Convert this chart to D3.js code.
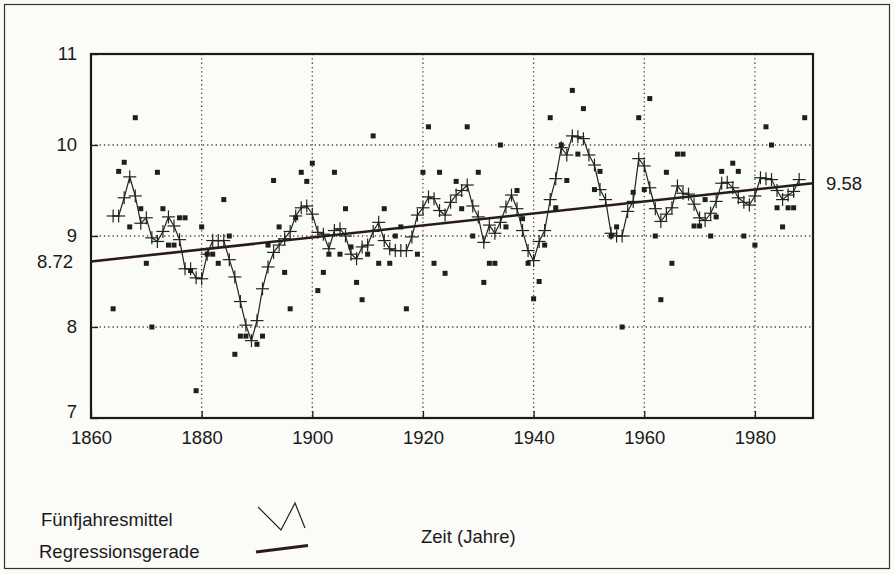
<!DOCTYPE html>
<html>
<head>
<meta charset="utf-8">
<script src="https://cdn.jsdelivr.net/npm/d3@7"></script>
<style>
  body { margin: 0; background: #fbfbf8; }
  text { font-family: 'Liberation Sans', Arial, sans-serif; fill: #1a1a1a; }
</style>
</head>
<body>
<div id="chart"></div>
<script>
// annual means (squares)
var annualYears = [1864,1865,1866,1867,1868,1869,1870,1871,1872,1873,
  1874,1875,1876,1877,1878,1879,1880,1881,1882,1883,
  1884,1885,1886,1887,1888,1890,1891,1892,1893,1894,
  1895,1896,1897,1898,1899,1900,1901,1902,1903,1904,
  1905,1906,1907,1908,1909,1910,1911,1912,1913,1914,
  1915,1916,1917,1919,1920,1921,1922,1923,1924,1926,
  1927,1928,1929,1930,1931,1932,1933,1934,1935,1937,
  1938,1939,1940,1941,1942,1943,1944,1945,1946,1947,
  1948,1949,1951,1952,1954,1955,1956,1958,1959,1960,
  1961,1962,1963,1964,1965,1966,1967,1969,1970,1971,
  1972,1973,1974,1976,1977,1978,1980,1982,1983,1984,
  1985,1986,1987,1989]
var annualValues = [8.20,9.71,9.81,9.10,10.30,9.30,8.70,8.00,9.70,9.30,
  8.90,8.90,9.20,9.20,8.62,7.30,9.10,8.80,8.80,8.70,
  9.40,9.00,7.70,7.90,7.90,7.81,7.90,8.90,9.61,9.10,
  8.60,8.20,9.20,9.70,9.60,9.80,8.40,8.60,8.80,9.70,
  8.80,9.30,8.88,8.49,8.30,8.80,10.10,8.70,9.30,8.70,
  9.00,9.10,8.20,8.80,9.70,10.20,8.70,9.70,8.59,9.60,
  9.30,10.20,9.00,9.70,8.49,8.70,8.70,10.00,9.10,9.50,
  9.19,8.70,8.31,8.50,8.90,10.30,9.31,10.00,9.61,10.60,
  9.90,10.40,9.51,9.71,9.00,9.10,8.00,9.48,10.30,9.51,
  10.51,9.00,8.30,9.70,8.70,9.90,9.90,9.11,9.11,9.40,
  9.00,9.21,9.71,9.80,9.71,9.00,8.90,10.20,10.00,9.31,
  9.10,9.31,9.31,10.30]

// five-year means (line with + markers), 1864..1988
var meanYears = d3.range(1864, 1989)
var meanValues = [9.22,9.22,9.42,9.65,9.44,9.14,9.20,8.98,8.94,9.05,
  9.21,9.11,8.96,8.64,8.64,8.54,8.53,8.80,8.95,8.95,
  8.95,8.74,8.55,8.28,8.02,7.85,8.07,8.42,8.66,8.82,
  8.90,8.97,9.05,9.22,9.31,9.33,9.24,9.04,9.02,8.86,
  9.06,9.08,9.00,8.80,8.75,8.88,8.90,9.05,9.15,8.95,
  8.86,8.84,8.84,8.84,8.99,9.23,9.31,9.43,9.41,9.28,
  9.23,9.37,9.45,9.50,9.56,9.33,9.21,8.93,9.12,9.03,
  9.15,9.32,9.45,9.30,9.06,8.84,8.73,8.94,9.06,9.40,
  9.63,9.97,9.89,10.10,10.09,10.07,9.89,9.78,9.51,9.40,
  9.03,9.00,9.00,9.27,9.38,9.85,9.77,9.53,9.30,9.16,
  9.24,9.31,9.55,9.47,9.46,9.35,9.20,9.17,9.25,9.38,
  9.58,9.59,9.53,9.42,9.37,9.34,9.44,9.64,9.63,9.62,
  9.50,9.40,9.45,9.49,9.62]

// regression line end values
var regressionYears = [1860, 1990.5]
var regressionValues = [8.72, 9.58]

var xTicks = [1860, 1880, 1900, 1920, 1940, 1960, 1980]
var yTicks = [7, 8, 9, 10, 11]

function drawChart() {
  const width = 895, height = 574
  const plot = {left: 91, right: 813, top: 54, bottom: 418}

  var svg = d3.select('#chart').append('svg')
    .attr('width', width)
    .attr('height', height)

  // outer border
  svg.append('rect')
    .attr('x', 4.5).attr('y', 4.5)
    .attr('width', width - 10).attr('height', height - 10)
    .style('fill', 'none')
    .style('stroke', '#333')
    .style('stroke-width', 1.2)

  const x = d3.scaleLinear().domain([1860, 1990.5]).range([plot.left, plot.right])
  const y = d3.scaleLinear().domain([7, 11]).range([plot.bottom, plot.top])

  var g = svg.append('g').attr('class', 'plot')

  // dotted grid
  g.append('g').selectAll('line')
    .data(xTicks.slice(1))
    .enter().append('line')
      .attr('x1', d => x(d)).attr('x2', d => x(d))
      .attr('y1', plot.top).attr('y2', plot.bottom)
      .style('stroke', '#444')
      .style('stroke-width', 1.3)
      .style('stroke-dasharray', '1.3,3')
  g.append('g').selectAll('line')
    .data(yTicks.slice(1, -1))
    .enter().append('line')
      .attr('x1', plot.left).attr('x2', plot.right)
      .attr('y1', d => y(d)).attr('y2', d => y(d))
      .style('stroke', '#444')
      .style('stroke-width', 1.3)
      .style('stroke-dasharray', '1.3,3')

  // axes, ticks pointing inward
  var xAxis = d3.axisBottom(x).tickValues(xTicks).tickSize(-7).tickPadding(13).tickFormat(d3.format('d'))
  var yAxis = d3.axisLeft(y).tickValues(yTicks).tickSize(-7).tickPadding(14).tickFormat(d3.format('d'))

  var gx = g.append('g').attr('transform', 'translate(0,' + plot.bottom + ')').call(xAxis)
  var gy = g.append('g').attr('transform', 'translate(' + plot.left + ',0)').call(yAxis)
  ;[gx, gy].forEach(a => {
    a.select('.domain').remove()
    a.selectAll('line').style('stroke', '#1a1a1a').style('stroke-width', 1.3)
    a.selectAll('text').style('font-size', '18.5px').style('fill', '#1a1a1a')
  })
  gy.selectAll('text').filter(d => d === 7).attr('dy', '-0.05em')

  // frame
  g.append('rect')
    .attr('x', plot.left).attr('y', plot.top)
    .attr('width', plot.right - plot.left).attr('height', plot.bottom - plot.top)
    .style('fill', 'none')
    .style('stroke', '#1a1a1a')
    .style('stroke-width', 2.2)

  // regression
  var reg = regressionYears.map((d, i) => [d, regressionValues[i]])
  g.append('path')
    .datum(reg)
    .attr('d', d3.line().x(d => x(d[0])).y(d => y(d[1])))
    .style('fill', 'none')
    .style('stroke', '#2a1b1b')
    .style('stroke-width', 2.6)

  g.append('text')
    .attr('x', plot.left - 18).attr('y', y(regressionValues[0]))
    .attr('dy', '0.35em')
    .attr('text-anchor', 'end')
    .style('font-size', '18.5px')
    .text(d3.format('.2f')(regressionValues[0]))
  g.append('text')
    .attr('x', plot.right + 13).attr('y', y(regressionValues[1]))
    .attr('dy', '0.35em')
    .style('font-size', '18.5px')
    .text(d3.format('.2f')(regressionValues[1]))

  // five-year mean line + markers
  var mean = meanYears.map((d, i) => [d, meanValues[i]])
  g.append('path')
    .datum(mean)
    .attr('d', d3.line().x(d => x(d[0])).y(d => y(d[1])))
    .style('fill', 'none')
    .style('stroke', '#222')
    .style('stroke-width', 1.2)

  var plus = g.append('g').selectAll('g')
    .data(mean)
    .enter().append('g')
      .attr('transform', d => 'translate(' + x(d[0]) + ',' + y(d[1]) + ')')
  plus.append('line').attr('x1', -6.5).attr('x2', 6.5).attr('y1', 0).attr('y2', 0)
  plus.append('line').attr('x1', 0).attr('x2', 0).attr('y1', -6.5).attr('y2', 6.5)
  plus.selectAll('line').style('stroke', '#222').style('stroke-width', 1.2)

  // annual squares
  g.append('g').selectAll('rect')
    .data(annualYears.map((d, i) => [d, annualValues[i]]))
    .enter().append('rect')
      .attr('x', d => x(d[0]) - 2.5)
      .attr('y', d => y(d[1]) - 2.5)
      .attr('width', 5)
      .attr('height', 5)
      .style('fill', '#1e1e1e')

  // legend
  var lg = svg.append('g').attr('class', 'legend')
  lg.append('text').attr('x', 41).attr('y', 526).style('font-size', '18.5px').text('Fünfjahresmittel')
  lg.append('text').attr('x', 39).attr('y', 558).style('font-size', '18.5px').text('Regressionsgerade')
  lg.append('path')
    .attr('d', 'M258,507L281,530L295,503L305,528')
    .style('fill', 'none').style('stroke', '#222').style('stroke-width', 1.2)
  lg.append('path')
    .attr('d', 'M256,552L308,545.5')
    .style('fill', 'none').style('stroke', '#2a1b1b').style('stroke-width', 2.8)
  lg.append('text').attr('x', 421).attr('y', 543).style('font-size', '18.5px').text('Zeit (Jahre)')
}

drawChart()
</script>
</body>
</html>
